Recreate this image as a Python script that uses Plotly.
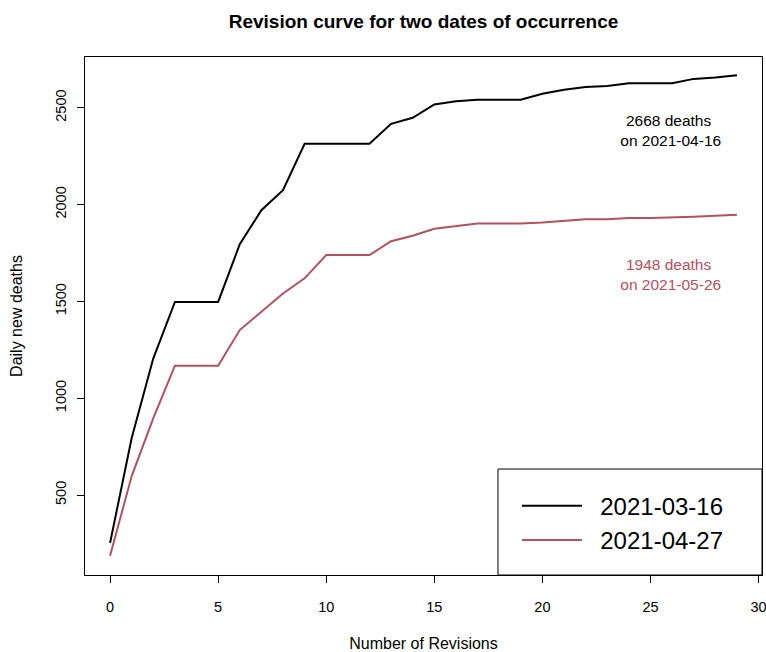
import plotly.graph_objects as go

revisions = list(range(30))
deaths_0316 = [253, 794, 1206, 1497, 1497, 1497, 1795, 1971, 2074, 2314,
               2314, 2314, 2314, 2417, 2448, 2517, 2534, 2541, 2541, 2541,
               2572, 2593, 2607, 2612, 2627, 2627, 2627, 2649, 2656, 2668]
deaths_0427 = [186, 598, 897, 1168, 1168, 1168, 1352, 1447, 1541, 1619,
               1739, 1739, 1739, 1811, 1839, 1875, 1888, 1902, 1902, 1902,
               1907, 1914, 1924, 1924, 1931, 1931, 1933, 1937, 1942, 1948]
series_names = ["2021-03-16", "2021-04-27"]
x_ticks = [0, 5, 10, 15, 20, 25, 30]
y_ticks = [500, 1000, 1500, 2000, 2500]
label_black = "2668 deaths<br> on 2021-04-16"
label_red = "1948 deaths<br> on 2021-05-26"

BLACK = "#000000"
RED = "#B5505E"
FONT = "Liberation Sans, Arial, sans-serif"
PAD = "\u00a0\u00a0"

fig = go.Figure()
fig.add_trace(go.Scatter(x=revisions, y=deaths_0316, mode="lines", name=PAD + series_names[0],
                         line=dict(color=BLACK, width=2), legendgroup="a"))
fig.add_trace(go.Scatter(x=revisions, y=deaths_0427, mode="lines", name=PAD + series_names[1],
                         line=dict(color=RED, width=2), legendgroup="b"))

fig.add_annotation(x=25.85, y=2385, xref="x", yref="y", text=label_black, showarrow=False,
                   font=dict(family=FONT, size=15.5, color=BLACK), align="center")
fig.add_annotation(x=25.85, y=1640, xref="x", yref="y", text=label_red, showarrow=False,
                   font=dict(family=FONT, size=15.5, color=RED), align="center")

# legend frame
fig.add_shape(type="rect", xref="paper", yref="paper", x0=0.610, x1=1.0, y0=0.0, y1=0.2046,
              line=dict(color=BLACK, width=1), fillcolor="white", layer="above")

fig.update_layout(
    width=766, height=652,
    margin=dict(l=85, r=4, t=57, b=77, autoexpand=False),
    paper_bgcolor="white", plot_bgcolor="white",
    font=dict(family=FONT, color=BLACK),
    title=dict(text="<b>Revision curve for two dates of occurrence</b>", x=(85 + 762) / 2 / 766,
               xanchor="center", y=1 - 21 / 652, yanchor="middle",
               font=dict(family=FONT, size=19, color=BLACK)),
    showlegend=True,
    legend=dict(x=0.638, y=0.1, xanchor="left", yanchor="middle", bgcolor="rgba(0,0,0,0)",
                borderwidth=0, font=dict(family=FONT, size=24, color=BLACK),
                itemwidth=60, tracegroupgap=0),
)
fig.update_xaxes(range=[-1.16, 30.16], tickvals=x_ticks, ticks="outside", ticklen=7,
                 tickcolor=BLACK, showgrid=False, zeroline=False, showline=True,
                 linecolor=BLACK, linewidth=1, mirror=True, ticklabeloverflow="allow",
                 ticklabelstandoff=12, automargin=False,
                 tickfont=dict(family=FONT, size=14.5, color=BLACK),
                 title=dict(text="Number of Revisions", standoff=25,
                            font=dict(family=FONT, size=16, color=BLACK)))
fig.update_yaxes(range=[87, 2762], tickvals=y_ticks, ticks="outside", ticklen=7,
                 tickcolor=BLACK, showgrid=False, zeroline=False, showline=True,
                 linecolor=BLACK, linewidth=1, mirror=True, tickangle=-90,
                 ticklabelstandoff=5, automargin=False,
                 tickfont=dict(family=FONT, size=14.5, color=BLACK),
                 title=dict(text="Daily new deaths", standoff=26,
                            font=dict(family=FONT, size=16, color=BLACK)))

fig.write_html("out.html")
